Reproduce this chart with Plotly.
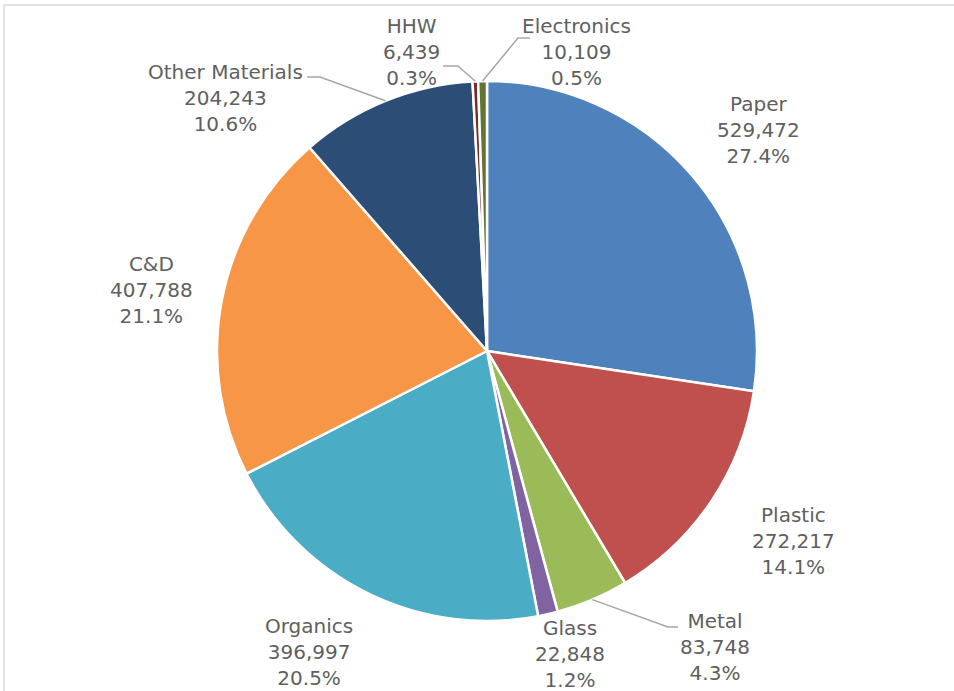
import math
import plotly.graph_objects as go

# ---- data ----
categories = ["Paper", "Plastic", "Metal", "Glass", "Organics", "C&D",
              "Other Materials", "HHW", "Electronics"]
tons = [529472, 272217, 83748, 22848, 396997, 407788, 204243, 6439, 10109]
colors = ["#4F81BD", "#C0504D", "#9BBB59", "#8064A2", "#4BACC6", "#F79646",
          "#2C4D75", "#772C2A", "#5F7530"]

# ---- layout constants (pixels) ----
W, H = 954, 691
CX, CY, R = 487, 351, 270
label_pos = {
    "Paper": (758, 130), "Plastic": (793, 541), "Metal": (715, 647),
    "Glass": (570, 654), "Organics": (309, 652), "C&D": (151, 290),
    "Other Materials": (225, 98), "HHW": (411, 52), "Electronics": (576, 52),
}
leaders = {  # label-side start point, elbow point
    "Other Materials": ((307, 77), (320, 77)),
    "HHW": ((443, 66), (458, 66)),
    "Electronics": ((530, 38), (518, 38)),
    "Metal": ((678, 627), (668, 627)),
}

def px(x):
    return x / W

def py(y):
    return 1 - y / H

total = sum(tons)

fig = go.Figure(go.Pie(
    labels=categories, values=tons, sort=False, direction="clockwise",
    rotation=0, marker=dict(colors=colors, line=dict(color="white", width=2.5)),
    textinfo="none", hoverinfo="label+value+percent", showlegend=False,
    domain=dict(x=[px(CX - R), px(CX + R)], y=[py(CY + R), py(CY - R)]),
))

annotations = []
shapes = []
cum = 0
for cat, v in zip(categories, tons):
    mid = (cum + v / 2) / total
    cum += v
    pct = v / total * 100
    lx, ly = label_pos[cat]
    annotations.append(dict(
        x=px(lx), y=py(ly), xref="paper", yref="paper",
        text=f"{cat}<br>{v:,}<br>{pct:.1f}%", showarrow=False,
        xanchor="center", yanchor="middle", align="center",
        font=dict(family="DejaVu Sans", size=20, color="#5F5F5F"),
    ))
    if cat in leaders:
        ang = mid * 2 * math.pi
        ex = CX + R * math.sin(ang)
        ey = CY - R * math.cos(ang)
        (sx, sy), (bx, by) = leaders[cat]
        path = f"M {px(sx)},{py(sy)} L {px(bx)},{py(by)} L {px(ex)},{py(ey)}"
        shapes.append(dict(type="path", xref="paper", yref="paper", path=path,
                           line=dict(color="#A6A6A6", width=1.5)))

# chart border (top/left visible)
shapes.append(dict(type="rect", xref="paper", yref="paper",
                   x0=px(4), y0=-0.05, x1=1.05, y1=py(5),
                   line=dict(color="#D9D9D9", width=1.5)))

fig.update_layout(
    width=W, height=H, margin=dict(l=0, r=0, t=0, b=0),
    paper_bgcolor="white", plot_bgcolor="white",
    annotations=annotations, shapes=shapes,
)

fig.write_html("out.html", config={"displayModeBar": False},
               post_script="document.body.style.margin='0';")
